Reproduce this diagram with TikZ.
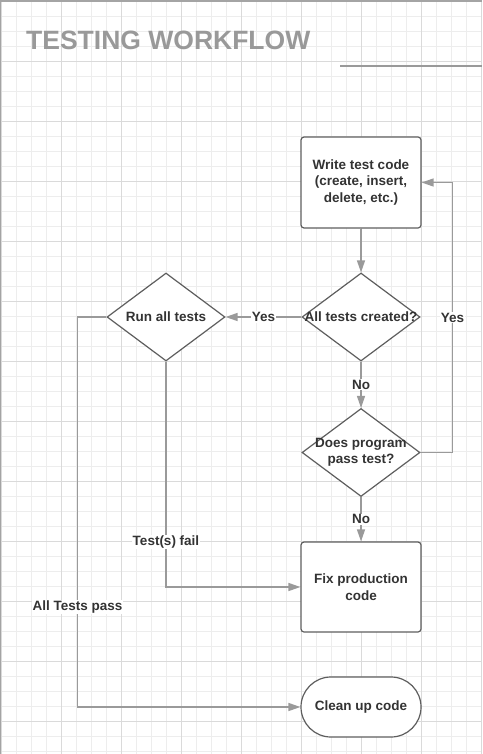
\documentclass[tikz,border=0pt]{standalone}
\usepackage{fontspec}
\setmainfont{Liberation Sans}
\usetikzlibrary{shapes.geometric,arrows.meta}
\definecolor{linegray}{HTML}{9A9A9A}
\definecolor{boxgray}{HTML}{5E5E5E}
\definecolor{txtgray}{HTML}{333333}
\definecolor{gridminor}{HTML}{EDEDED}
\definecolor{gridmajor}{HTML}{DADADA}
\definecolor{titlegray}{HTML}{999999}

\begin{document}
\begin{tikzpicture}[x=1pt,y=-1pt,>={Triangle[length=12pt,width=8pt]},
    font=\fontsize{13.5}{16.5}\selectfont\bfseries,
    proc/.style={draw=boxgray,line width=1.2pt,rounded corners=3pt,fill=white,
      minimum width=120,minimum height=91,align=center,text=txtgray},
    term/.style={proc,rounded corners=30pt,minimum height=60},
    decision/.style={diamond,draw=boxgray,line width=1.2pt,fill=white,
      minimum width=118,minimum height=88,inner sep=0pt},
    dtext/.style={align=center,text=txtgray,inner sep=0pt},
    flow/.style={->,draw=linegray,line width=1.3pt,color=linegray},
    lbl/.style={fill=white,inner sep=1pt,text=txtgray}]
  \useasboundingbox (0,0) rectangle (482,754);
  % background grid
  \fill[white] (0,0) rectangle (482,754);
  \foreach \i in {0,...,32} \draw[gridminor,line width=0.8pt] (1.7+15*\i,0) -- (1.7+15*\i,754);
  \foreach \j in {0,...,50} \draw[gridminor,line width=0.8pt] (0,1.7+15*\j) -- (482,1.7+15*\j);
  \foreach \i in {0,...,8} \draw[gridmajor,line width=0.8pt] (1.7+60*\i,0) -- (1.7+60*\i,754);
  \foreach \j in {0,...,12} \draw[gridmajor,line width=0.8pt] (0,1.7+60*\j) -- (482,1.7+60*\j);
  \draw[linegray!90,line width=2pt] (0,1) -- (482,1);
  \draw[linegray!90,line width=1pt] (0.5,0) -- (0.5,754);
  % title
  \node[anchor=base west,inner sep=0pt,text=titlegray,
    font=\fontsize{26.5}{30}\selectfont\bfseries] (title) at (26,50) {TESTING WORKFLOW};
  \draw[linegray,line width=1.6pt] (340,66) -- (482,66);
  % steps
  \node[proc] (write) at (361,182.5) {Write test code\\(create, insert,\\delete, etc.)};
  \node[decision,label={[dtext]center:All tests created?}] (created) at (361,317) {};
  \node[decision,label={[dtext]center:Run all tests}] (run) at (166,317) {};
  \node[decision,label={[dtext]center:{Does program\\pass test?}}] (pass) at (361,452.5) {};
  \node[proc,minimum height=90] (fix) at (361,587) {Fix production\\code};
  \node[term] (clean) at (361,707) {Clean up code};
  % connectors
  \draw[flow] (write) -- (created);
  \draw[flow] (created) -- node[lbl] {Yes} (run);
  \draw[flow] (created) -- node[lbl] {No} (pass);
  \draw[flow] (pass) -- node[lbl] {No} (fix);
  \draw[flow] (pass.east) -- ++(32,0) |- node[lbl,pos=0.25] {Yes} (write.east);
  \draw[flow] (run.south) |- node[lbl,pos=0.4] {Test(s) fail} (fix.west);
  \draw[flow] (run.west) -- ++(-29,0) |- node[lbl,pos=0.372] {All Tests pass} (clean.west);
\end{tikzpicture}
\end{document}
